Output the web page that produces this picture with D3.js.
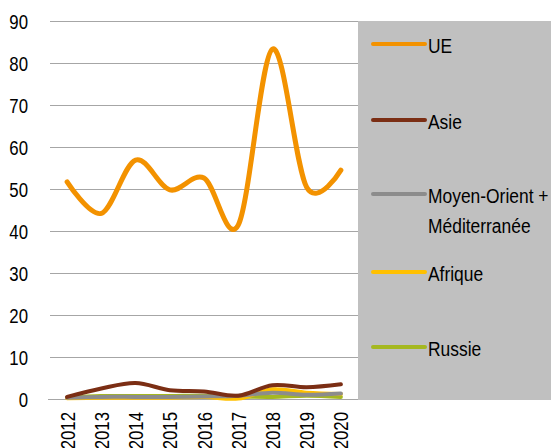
<!DOCTYPE html>
<html><head><meta charset="utf-8">
<script src="https://cdn.jsdelivr.net/npm/d3@7"></script>
<style>body{margin:0;background:#fff}svg{display:block}text{font-family:"Liberation Sans",Arial,sans-serif;fill:#000}</style>
</head><body><svg id="c" width="551" height="448"></svg>
<script>
const years = ["2012","2013","2014","2015","2016","2017","2018","2019","2020"];
const ue = [51.7, 44.2, 56.9, 49.8, 52.6, 41.4, 83.3, 50.4, 54.5];
const asie = [0.5, 2.5, 3.8, 2.1, 1.8, 0.8, 3.3, 2.8, 3.5];
const moyenOrient = [0.3, 0.5, 0.5, 0.5, 0.6, 0.8, 1.5, 1.0, 1.3];
const afrique = [0.2, 0.3, 0.3, 0.3, 0.5, 0.1, 2.3, 1.5, 1.2];
const russie = [0.3, 0.7, 0.7, 0.7, 0.8, 0.6, 0.5, 0.8, 0.5];
const yTicks = [0,10,20,30,40,50,60,70,80,90];
const seriesNames = ["UE","Asie","Moyen-Orient + Méditerranée","Afrique","Russie"];
const colors = ["#F39200","#7B2E14","#8C8C8C","#FFC000","#A5B820"];
const seriesData = [ue, asie, moyenOrient, afrique, russie];

const svg = d3.select("#c");
const L = 50, R = 358, T = 21, B = 399;
const x = d3.scaleBand().domain(years).range([L, R]);
const y = d3.scaleLinear().domain([0, 90]).range([B, T]);

svg.append("rect").attr("x", R).attr("y", T).attr("width", 551 - R).attr("height", B - T + 1).attr("fill", "#C0C0C0");

svg.append("g").selectAll("line").data(yTicks.filter(d => d > 0)).join("line")
  .attr("x1", L).attr("x2", R).attr("y1", d => Math.round(y(d)) + 0.5).attr("y2", d => Math.round(y(d)) + 0.5)
  .attr("stroke", "#A6A6A6").attr("stroke-width", 1);
svg.append("line").attr("x1", L - 2).attr("x2", R).attr("y1", B + 0.5).attr("y2", B + 0.5).attr("stroke", "#A6A6A6");

svg.append("g").selectAll("text").data(yTicks).join("text")
  .attr("transform", d => `translate(28,${y(d) + 8}) scale(0.8,1)`)
  .attr("text-anchor", "end").attr("font-size", 21).text(d => d);

svg.append("g").selectAll("text").data(years).join("text")
  .attr("transform", d => `translate(${x(d) + x.bandwidth()/2 + 7.5},412) rotate(-90) scale(0.8,1)`)
  .attr("text-anchor", "end").attr("font-size", 21).text(d => d);

const line = d3.line().x((d, i) => x(years[i]) + x.bandwidth()/2).y(d => y(d)).curve(d3.curveCatmullRom.alpha(0));
[4, 3, 2, 1, 0].forEach(k => {
  svg.append("path").attr("d", line(seriesData[k])).attr("fill", "none")
    .attr("stroke", colors[k]).attr("stroke-width", k === 0 ? 5 : 4).attr("stroke-linecap", "round").attr("stroke-linejoin", "round");
});

const legY = [44, 120, 194, 272, 347];
seriesNames.forEach((n, i) => {
  const g = svg.append("g");
  g.append("line").attr("x1", 373).attr("x2", 425).attr("y1", legY[i]).attr("y2", legY[i])
    .attr("stroke", colors[i]).attr("stroke-width", 4).attr("stroke-linecap", "round");
  const lines = i === 2 ? ["Moyen-Orient +", "Méditerranée"] : [n];
  lines.forEach((t, j) => {
    g.append("text").attr("transform", `translate(428,${legY[i] + 9 + j * 30}) scale(0.83,1)`)
      .attr("font-size", 21).text(t);
  });
});
</script></body></html>
